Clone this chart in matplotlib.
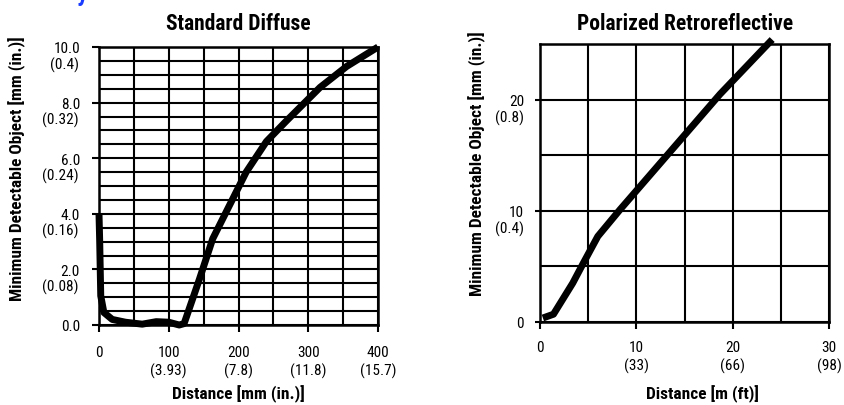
import matplotlib
matplotlib.use("Agg")
import matplotlib.pyplot as plt
from matplotlib import font_manager as fm
import matplotlib.transforms as mtrans

names = {f.name for f in fm.fontManager.ttflist}
FONT = "Liberation Sans"
for cand in ["Liberation Sans Narrow", "Arial Narrow", "Roboto Condensed", "Archivo Narrow", "Barlow Semi Condensed"]:
    if cand in names:
        FONT = cand
        break
plt.rcParams['font.family'] = [FONT, 'DejaVu Sans']

# ---- data: Standard Diffuse ----
sd_x = [0, 1, 2.5, 7, 19, 38, 62, 82, 100, 115, 122, 144, 163, 191, 211, 240, 269, 317, 355, 400]
sd_y = [4.0, 3.0, 1.05, 0.45, 0.2, 0.1, 0.03, 0.12, 0.1, 0.0, 0.05, 1.65, 3.1, 4.5, 5.5, 6.6, 7.35, 8.55, 9.3, 10.0]
sd_xticks = [0, 100, 200, 300, 400]
sd_xlabels = ["0", "100", "200", "300", "400"]
sd_xsub = ["", "(3.93)", "(7.8)", "(11.8)", "(15.7)"]
sd_yticks = [0, 2, 4, 6, 8, 10]
sd_ylabels = ["0.0", "2.0", "4.0", "6.0", "8.0", "10.0"]
sd_ysub = ["", "(0.08)", "(0.16)", "(0.24)", "(0.32)", "(0.4)"]

# ---- data: Polarized Retroreflective ----
pr_x = [0.3, 1.4, 2.4, 3.4, 4.5, 6.0, 8.3, 9.7, 14.8, 18.7, 24.1]
pr_y = [0.36, 0.7, 2.1, 3.5, 5.3, 7.7, 10.1, 11.5, 16.6, 20.5, 25.4]
pr_xticks = [0, 10, 20, 30]
pr_xlabels = ["0", "10", "20", "30"]
pr_xsub = ["", "(33)", "(66)", "(98)"]
pr_yticks = [0, 10, 20]
pr_ylabels = ["0", "10", "20"]
pr_ysub = ["", "(0.4)", "(0.8)"]

W, H = 845, 406
fig = plt.figure(figsize=(W / 100, H / 100), dpi=100)
FS = 11


def axes_px(l, t, r, b):
    return fig.add_axes([l / W, 1 - b / H, (r - l) / W, (b - t) / H])


def style(ax, xlim, ylim, xgrid, ygrid, xticks, xlabels, xsub, yticks, ylabels, ysub,
          ytick_len, ypad, ysub_dx, ysub_dy, xpad, xsub_dy):
    ax.set_xlim(*xlim)
    ax.set_ylim(*ylim)
    for g in xgrid:
        ax.axvline(g, color='black', lw=1.5, zorder=1)
    for g in ygrid:
        ax.axhline(g, color='black', lw=1.5, zorder=1)
    for s in ax.spines.values():
        s.set_linewidth(1.8)
    ax.set_xticks(xticks)
    ax.set_xticklabels(xlabels)
    ax.set_yticks(yticks)
    ax.set_yticklabels(ylabels)
    ax.tick_params(axis='y', direction='out', length=ytick_len * 0.72, width=1.5, labelsize=FS,
                   pad=ypad * 0.72)
    ax.tick_params(axis='x', direction='out', length=7 * 0.72, width=1.5, labelsize=FS,
                   pad=xpad * 0.72)
    tx = mtrans.blended_transform_factory(ax.transData, ax.transAxes)
    tx = mtrans.offset_copy(tx, fig=fig, x=0, y=-xsub_dy, units='dots')
    for v, s in zip(xticks, xsub):
        if s:
            ax.text(v, 0, s, transform=tx, ha='center', va='center', fontsize=FS)
    ty = mtrans.blended_transform_factory(ax.transAxes, ax.transData)
    ty = mtrans.offset_copy(ty, fig=fig, x=-ysub_dx, y=-ysub_dy, units='dots')
    for v, s in zip(yticks, ysub):
        if s:
            ax.text(0, v, s, transform=ty, ha='right', va='center', fontsize=FS)


ax1 = axes_px(99, 48, 378, 326)
style(ax1, (0, 400), (0, 10), range(0, 401, 50), [i * 0.5 for i in range(21)],
      sd_xticks, sd_xlabels, sd_xsub, sd_yticks, sd_ylabels, sd_ysub,
      ytick_len=7, ypad=12, ysub_dx=20, ysub_dy=17, xpad=13, xsub_dy=45)
ax1.plot(sd_x, sd_y, color='black', lw=5, solid_capstyle='butt', solid_joinstyle='round',
         zorder=3, clip_on=False)

ax2 = axes_px(540, 45, 829, 323)
style(ax2, (0, 30), (0, 25), range(0, 31, 5), range(0, 26, 5),
      pr_xticks, pr_xlabels, pr_xsub, pr_yticks, pr_ylabels, pr_ysub,
      ytick_len=5, ypad=11, ysub_dx=16, ysub_dy=18, xpad=11, xsub_dy=43)
ax2.plot(pr_x, pr_y, color='black', lw=5, solid_capstyle='butt', solid_joinstyle='round',
         zorder=3, clip_on=False)

# titles and labels
fig.text(238 / W, 1 - 24 / H, "Standard Diffuse", ha='center', va='center', fontsize=15.5, fontweight='bold')
fig.text(685 / W, 1 - 24 / H, "Polarized Retroreflective", ha='center', va='center', fontsize=15.5, fontweight='bold')
fig.text(17 / W, 1 - 169 / H, "Minimum Detectable Object [mm (in.)]", rotation=90, ha='center', va='center',
         fontsize=12.5, fontweight='bold')
fig.text(477 / W, 1 - 164 / H, "Minimum Detectable Object [mm (in.)]", rotation=90, ha='center', va='center',
         fontsize=12.5, fontweight='bold')
fig.text(238 / W, 1 - 394 / H, "Distance [mm (in.)]", ha='center', va='center', fontsize=12.5, fontweight='bold')
fig.text(702 / W, 1 - 394 / H, "Distance [m (ft)]", ha='center', va='center', fontsize=12.5, fontweight='bold')
# cropped blue heading fragment
fig.text(82 / W, 1 - 1 / H, "y", ha='center', va='baseline', fontsize=18, fontweight='bold', color='#1a3cff')

fig.savefig("out.png", dpi=100)
